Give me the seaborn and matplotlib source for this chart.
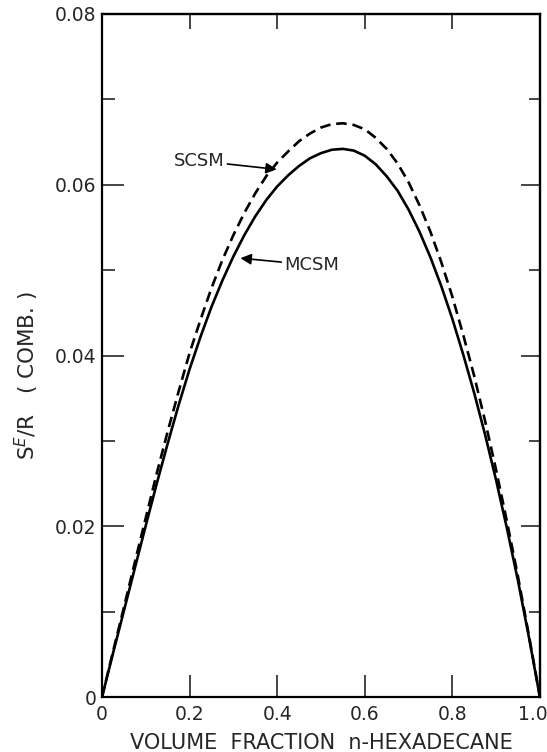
import numpy as np
import pandas as pd
import matplotlib
matplotlib.use("Agg")
import matplotlib.pyplot as plt
import matplotlib.transforms as mtransforms
from matplotlib.ticker import MultipleLocator, FixedLocator
import seaborn as sns

# ---- data ----
volume_fraction = [0.000, 0.025, 0.050, 0.075, 0.100, 0.125, 0.150, 0.175, 0.200, 0.225,
                   0.250, 0.275, 0.300, 0.325, 0.350, 0.375, 0.400, 0.425, 0.450, 0.475,
                   0.500, 0.525, 0.550, 0.575, 0.600, 0.625, 0.650, 0.675, 0.700, 0.725,
                   0.750, 0.775, 0.800, 0.825, 0.850, 0.875, 0.900, 0.925, 0.950, 0.975,
                   1.000]
mcsm = [0.0000, 0.0051, 0.0101, 0.0151, 0.0201, 0.0250, 0.0297, 0.0342, 0.0384, 0.0422,
        0.0457, 0.0488, 0.0516, 0.0541, 0.0563, 0.0582, 0.0598, 0.0611, 0.0622, 0.0631,
        0.0637, 0.0641, 0.0642, 0.0640, 0.0634, 0.0624, 0.0610, 0.0593, 0.0571, 0.0545,
        0.0515, 0.0481, 0.0443, 0.0401, 0.0356, 0.0307, 0.0254, 0.0197, 0.0136, 0.0070,
        0.0000]
scsm = [0.0000, 0.0053, 0.0105, 0.0158, 0.0210, 0.0262, 0.0311, 0.0358, 0.0403, 0.0442,
        0.0479, 0.0512, 0.0541, 0.0567, 0.0590, 0.0610, 0.0626, 0.0639, 0.0651, 0.0660,
        0.0667, 0.0671, 0.0672, 0.0670, 0.0665, 0.0655, 0.0642, 0.0625, 0.0603, 0.0576,
        0.0545, 0.0509, 0.0469, 0.0424, 0.0376, 0.0323, 0.0266, 0.0205, 0.0141, 0.0072,
        0.0000]
x_ticks = [0.0, 0.2, 0.4, 0.6, 0.8, 1.0]
x_tick_labels = ["0", "0.2", "0.4", "0.6", "0.8", "1.0"]
y_ticks = [0.0, 0.02, 0.04, 0.06, 0.08]
y_tick_labels = ["0", "0.02", "0.04", "0.06", "0.08"]

df = pd.DataFrame({
    "x": volume_fraction * 2,
    "y": mcsm + scsm,
    "model": ["MCSM"] * len(mcsm) + ["SCSM"] * len(scsm),
})

sns.set_style("ticks")
plt.rcParams["font.family"] = ["DejaVu Sans"]

fig = plt.figure(figsize=(5.47, 7.52), dpi=100)
ax = fig.add_axes([0.1865, 0.0731, 0.8005, 0.9083])

sns.lineplot(data=df, x="x", y="y", hue="model", style="model",
             palette={"MCSM": "black", "SCSM": "black"},
             dashes={"MCSM": "", "SCSM": (4, 2.2)},
             linewidth=1.9, legend=False, ax=ax, estimator=None, sort=True)

ax.set_xlim(0, 1.0)
ax.set_ylim(0, 0.08)
for s in ax.spines.values():
    s.set_visible(True)
    s.set_linewidth(1.6)
    s.set_color("black")

ax.xaxis.set_major_locator(FixedLocator(x_ticks))
ax.set_xticklabels(x_tick_labels)
ax.yaxis.set_major_locator(FixedLocator(y_ticks))
ax.set_yticklabels(y_tick_labels)
ax.yaxis.set_minor_locator(MultipleLocator(0.01))

ax.tick_params(axis="x", which="major", direction="in", length=16, width=1.2,
               labelsize=13.5, pad=6, top=False, bottom=True)
ax.tick_params(axis="y", which="major", direction="in", length=16, width=1.2,
               labelsize=13.5, pad=4, left=True, right=False)
ax.tick_params(axis="y", which="minor", direction="in", length=9, width=1.2,
               left=True, right=False)

# nudge the "1.0" label left so it stays inside the figure
last = ax.get_xticklabels()[-1]
last.set_transform(last.get_transform() +
                   mtransforms.ScaledTranslation(-7 / 100, 0, fig.dpi_scale_trans))

# top and right ticks (shorter)
axt = ax.secondary_xaxis("top")
axt.xaxis.set_major_locator(FixedLocator(x_ticks))
axt.tick_params(direction="in", length=11, width=1.2, labeltop=False)
axt.spines["top"].set_linewidth(1.6)
axr = ax.secondary_yaxis("right")
axr.yaxis.set_major_locator(FixedLocator(y_ticks))
axr.yaxis.set_minor_locator(MultipleLocator(0.01))
axr.tick_params(which="major", direction="in", length=14, width=1.2, labelright=False)
axr.tick_params(which="minor", direction="in", length=8, width=1.2)
axr.spines["right"].set_linewidth(1.6)

ax.set_xlabel("VOLUME  FRACTION  n-HEXADECANE", fontsize=15, labelpad=6)
ax.set_ylabel(r"S$^{E}$/R   ( COMB. )", fontsize=15.5)
ax.yaxis.set_label_coords(-0.14, 0.47)

arrow = dict(arrowstyle="-|>", color="black", lw=1.2, mutation_scale=16,
             shrinkA=0, shrinkB=0)
ax.annotate("SCSM", xy=(0.399, 0.0618), xytext=(0.163, 0.0628),
            fontsize=13, va="center", ha="left", arrowprops=arrow)
ax.annotate("MCSM", xy=(0.316, 0.0514), xytext=(0.417, 0.0506),
            fontsize=13, va="center", ha="left", arrowprops=arrow)

fig.savefig("out.png", dpi=100)
